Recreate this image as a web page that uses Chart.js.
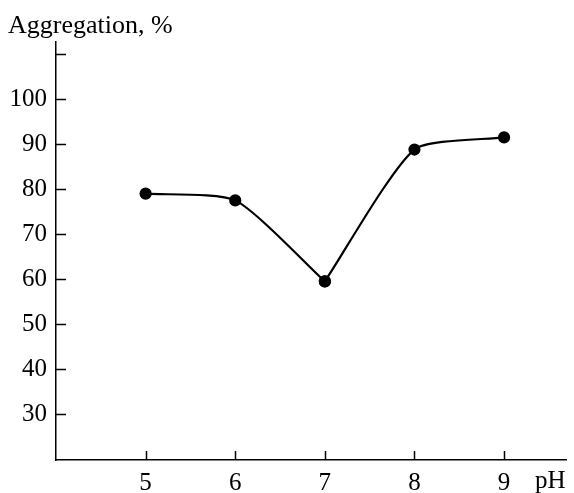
<!DOCTYPE html>
<html>
<head>
<meta charset="utf-8">
<script src="https://cdn.jsdelivr.net/npm/chart.js@4/dist/chart.umd.min.js"></script>
<style>
    html, body { margin: 0; padding: 0; background: #fff; }
    #wrap { width: 574px; height: 493px; position: relative; }
</style>
</head>
<body>
<div id="wrap"><canvas id="chart" width="574" height="493"></canvas></div>
<script>
const phValues = [5, 6, 7, 8, 9];
const aggregation = [79, 77.5, 59.5, 88.8, 91.5];
const xTicks = [5, 6, 7, 8, 9];
const yTicks = [30, 40, 50, 60, 70, 80, 90, 100, 110];
const yLabelled = [30, 40, 50, 60, 70, 80, 90, 100];
// the curve has a sharp minimum at pH 7, so it is drawn as two smooth pieces
const kinkIndex = 2;

const FONT = "Liberation Serif";

// inward tick marks and the two axis captions
const decorations = {
    id: 'decorations',
    afterDraw(chart) {
        const ctx = chart.ctx;
        const x = chart.scales.x;
        const y = chart.scales.y;
        const area = chart.chartArea;
        ctx.save();
        ctx.strokeStyle = '#000';
        ctx.lineWidth = 1.5;
        ctx.beginPath();
        for (const t of xTicks) {
            const px = Math.round(x.getPixelForValue(t)) + 0.5;
            ctx.moveTo(px, area.bottom);
            ctx.lineTo(px, area.bottom - 9);
        }
        for (const t of yTicks) {
            const py = Math.round(y.getPixelForValue(t)) + 0.5;
            ctx.moveTo(area.left, py);
            ctx.lineTo(area.left + 10, py);
        }
        ctx.stroke();

        ctx.fillStyle = '#000';
        ctx.textBaseline = 'alphabetic';
        ctx.textAlign = 'left';
        ctx.font = '26px "' + FONT + '", serif';
        ctx.fillText('Aggregation, %', 8, 33);
        ctx.font = '25px "' + FONT + '", serif';
        ctx.fillText('pH', 535, 488);
        ctx.restore();
    }
};

const points = phValues.map((p, i) => ({x: p, y: aggregation[i]}));

function piece(data) {
    return {
        data,
        borderColor: '#000',
        backgroundColor: '#000',
        borderWidth: 2.2,
        pointRadius: 5,
        pointHoverRadius: 5,
        tension: 0.2,
        clip: false
    };
}

new Chart(document.getElementById('chart'), {
    type: 'line',
    data: {
        datasets: [
            piece(points.slice(0, kinkIndex + 1)),
            piece(points.slice(kinkIndex))
        ]
    },
    options: {
        responsive: false,
        animation: false,
        events: [],
        layout: {padding: {top: 42, right: 4, left: 0, bottom: 0}},
        plugins: {legend: {display: false}, tooltip: {enabled: false}},
        scales: {
            x: {
                type: 'linear',
                min: 4,
                max: 9.7,
                afterBuildTicks: s => { s.ticks = xTicks.map(v => ({value: v})); },
                afterFit: s => { s.height = 33; },
                grid: {display: false, drawTicks: false},
                border: {display: true, color: '#000', width: 1.5},
                ticks: {
                    color: '#000',
                    padding: 8,
                    font: {family: FONT, size: 25},
                    maxRotation: 0
                }
            },
            y: {
                min: 19.8,
                max: 112.7,
                afterBuildTicks: s => { s.ticks = yTicks.map(v => ({value: v})); },
                afterFit: s => { s.width = 56; },
                grid: {display: false, drawTicks: false},
                border: {display: true, color: '#000', width: 1.5},
                ticks: {
                    color: '#000',
                    padding: 9,
                    font: {family: FONT, size: 25},
                    callback: v => yLabelled.includes(v) ? String(v) : ''
                }
            }
        }
    },
    plugins: [decorations]
});
</script>
</body>
</html>
